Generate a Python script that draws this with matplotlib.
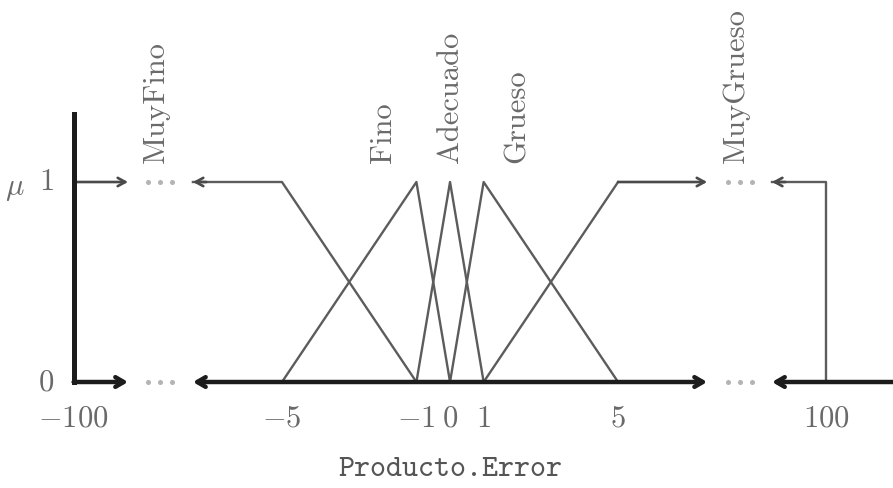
import numpy as np
import matplotlib
matplotlib.use('Agg')
import matplotlib.pyplot as plt

# ---------------- data ----------------
set_names = ['MuyFino', 'Fino', 'Adecuado', 'Grueso', 'MuyGrueso']
muyfino_x = [-100, -5, -1]
muyfino_y = [1, 1, 0]
fino_x = [-5, -1, 0]
fino_y = [0, 1, 0]
adecuado_x = [-1, 0, 1]
adecuado_y = [0, 1, 0]
grueso_x = [0, 1, 5]
grueso_y = [0, 1, 0]
muygrueso_x = [1, 5, 100, 100]
muygrueso_y = [0, 1, 1, 0]
x_ticks = [-100, -5, -1, 0, 1, 5, 100]
x_ticklabels = [r'$-100$', r'$-5$', r'$-1$', r'$0$', r'$1$', r'$5$', r'$100$']
y_ticks = [0, 1]
y_ticklabels = [r'$0$', r'$1$']
x_label = 'Producto.Error'
y_label = r'$\mu$'

# ---------------- broken-axis scale ----------------
LIN = 5.0
K = 6.2 / 95.0


def fwd(x):
    x = np.asarray(x, dtype=float)
    a = np.abs(x)
    return np.where(a <= LIN, x, np.sign(x) * (LIN + (a - LIN) * K))


def inv(u):
    u = np.asarray(u, dtype=float)
    a = np.abs(u)
    return np.where(a <= LIN, u, np.sign(u) * (LIN + (a - LIN) / K))


plt.rcParams['mathtext.fontset'] = 'cm'

fig = plt.figure(figsize=(8.93, 4.88), dpi=100)
ax = fig.add_axes([0, 0, 1, 1])
ax.set_xscale('function', functions=(fwd, inv))
ax.set_xlim(float(inv(-13.39)), float(inv(13.18)))
ax.set_ylim(-0.53, 1.91)
ax.axis('off')

GRAY = '#5c5c5c'
TXT = '#6a6a6a'
AX = '#1c1c1c'

# break positions (layout units)
b_out, b_in = 9.58, 7.65
L_out, L_in = float(inv(-b_out)), float(inv(-b_in))
R_in, R_out = float(inv(b_in)), float(inv(b_out))
right_end = float(inv(13.6))

# ---------------- membership functions ----------------
ax.plot([L_in] + muyfino_x[1:], [1] + muyfino_y[1:], color=GRAY, lw=1.7, zorder=3)
ax.plot(fino_x, fino_y, color=GRAY, lw=1.7, zorder=3)
ax.plot(adecuado_x, adecuado_y, color=GRAY, lw=1.7, zorder=3)
ax.plot(grueso_x, grueso_y, color=GRAY, lw=1.7, zorder=3)
ax.plot(muygrueso_x[:2], muygrueso_y[:2], color=GRAY, lw=1.7, zorder=3)
ax.plot([R_out] + muygrueso_x[2:], [1] + muygrueso_y[2:], color=GRAY, lw=1.7, zorder=3)

arrow_top = dict(arrowstyle='->,head_length=0.55,head_width=0.3', lw=1.9,
                 color='#4a4a4a', shrinkA=0, shrinkB=0)
ax.annotate('', xy=(L_out, 1), xytext=(muyfino_x[0], 1), arrowprops=arrow_top, zorder=4)
ax.annotate('', xy=(L_in, 1), xytext=(float(inv(-b_in + 0.4)), 1), arrowprops=arrow_top, zorder=4)
ax.annotate('', xy=(R_in, 1), xytext=(muygrueso_x[1], 1), arrowprops=arrow_top, zorder=4)
ax.annotate('', xy=(R_out, 1), xytext=(float(inv(b_out + 0.4)), 1), arrowprops=arrow_top, zorder=4)

# ---------------- axes ----------------
ax.plot([x_ticks[0], x_ticks[0]], [0, 1.34], color=AX, lw=3.6,
        solid_capstyle='projecting', zorder=5)
arrow_ax = dict(arrowstyle='->,head_length=0.6,head_width=0.35', lw=3.2,
                color=AX, shrinkA=0, shrinkB=0)
arrow_ax2 = dict(arrowstyle='<->,head_length=0.6,head_width=0.35', lw=3.2,
                 color=AX, shrinkA=0, shrinkB=0)
ax.annotate('', xy=(L_out, 0), xytext=(x_ticks[0], 0), arrowprops=arrow_ax, zorder=5)
ax.annotate('', xy=(R_in, 0), xytext=(L_in, 0), arrowprops=arrow_ax2, zorder=5)
ax.annotate('', xy=(R_out, 0), xytext=(right_end, 0), arrowprops=arrow_ax, zorder=5)

# dots in the breaks
for c in (-8.62, 8.62):
    for yv in (0, 1):
        ax.plot(inv(np.array([c - 0.36, c, c + 0.36])), [yv] * 3, 'o',
                color='#b4b4b4', ms=2.6, zorder=4)

# ---------------- text ----------------
FS = 22
for v, lab in zip(x_ticks, x_ticklabels):
    ax.annotate(lab, xy=(v, 0), xytext=(0, -26), textcoords='offset points',
                ha='center', va='center', fontsize=FS, color=TXT)
for v, lab in zip(y_ticks, y_ticklabels):
    ax.annotate(lab, xy=(x_ticks[0], v), xytext=(-14, 0), textcoords='offset points',
                ha='right', va='center', fontsize=FS, color=TXT)
ax.annotate(y_label, xy=(x_ticks[0], 1), xytext=(-42, -5), textcoords='offset points',
            ha='center', va='center', fontsize=FS, color=TXT)
ax.annotate(x_label, xy=(0, 0), xytext=(0, -63), textcoords='offset points',
            ha='center', va='center', fontsize=FS, color='#555555', family='cmtt10')

label_x = [float(inv(-8.75)), -2.0, 0.0, 2.0, float(inv(8.5))]
for name, xv in zip(set_names, label_x):
    ax.text(xv, 1.095, name, rotation=90, ha='center', va='bottom',
            fontsize=FS, color=TXT, family='cmr10')

fig.savefig('out.png', dpi=100)
